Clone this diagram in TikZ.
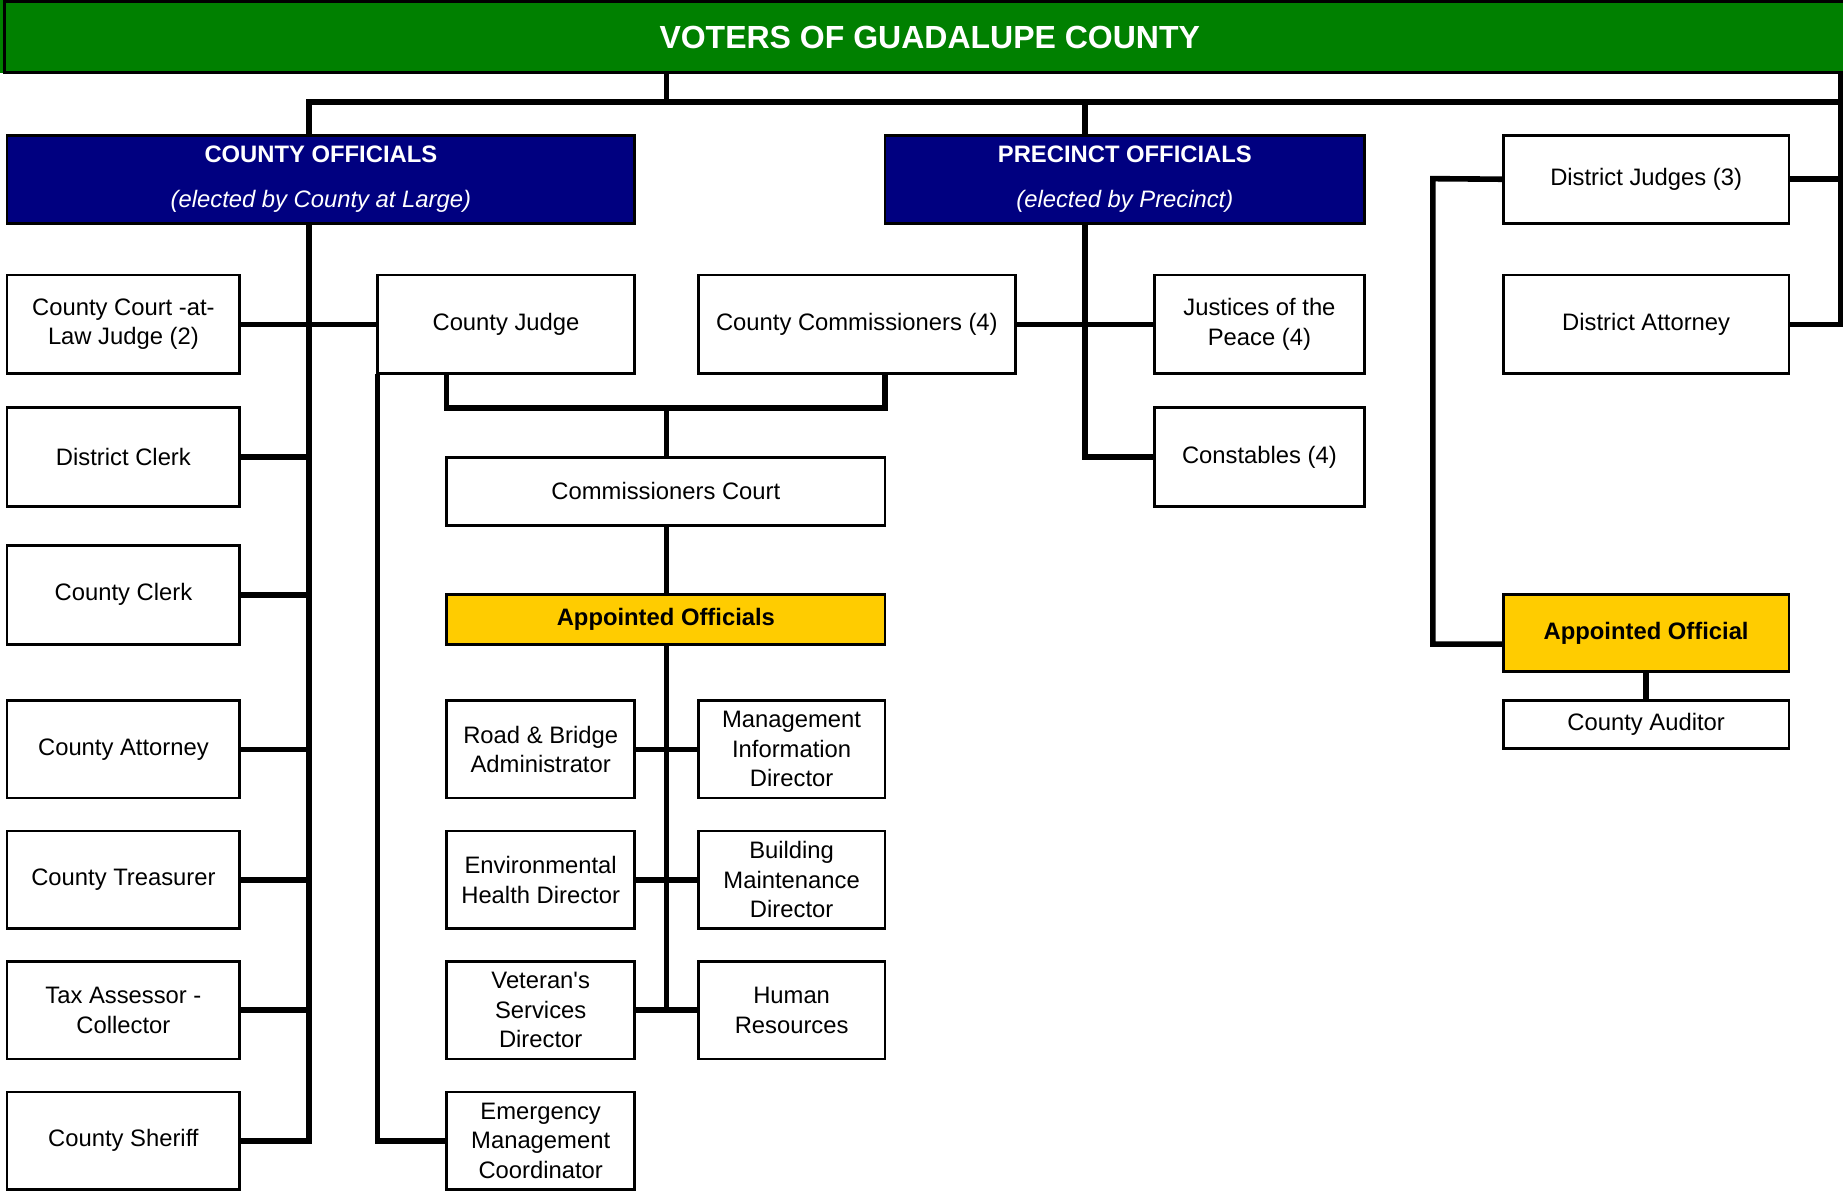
\documentclass[tikz,border=0pt]{standalone}
\usepackage{fontspec}
\setmainfont{Liberation Sans}
\definecolor{votegreen}{HTML}{008000}
\definecolor{navyblue}{HTML}{000080}
\definecolor{apptyellow}{HTML}{FFCC00}
\newcommand\orgbox[7][]{\node[box,#1,minimum width={(#5-#3)*1.1754pt},minimum height={(#6-#4)*1.1754pt}] (#2) at ({(#3+#5)/2},{(#4+#6)/2}) {#7};}
\begin{document}
\begin{tikzpicture}[x=1.1754pt,y=-1.1754pt,
  box/.style={draw=black,line width=2.8pt,fill=white,align=center,inner sep=1pt,outer sep=0pt,text=black,font=\fontsize{23.8}{29.5}\selectfont},
  head/.style={fill=navyblue,text=white},
  appt/.style={fill=apptyellow,font=\fontsize{23.8}{29.5}\selectfont\bfseries},
  conn/.style={line width=5.6pt,line join=miter}]
\useasboundingbox (0,0) rectangle (1568,1014);
\fill[votegreen] (0,0) rectangle (6,62);
% banner
\orgbox[fill=votegreen,text=white,font=\fontsize{32}{38}\selectfont\bfseries]{voters}{4}{1}{1578}{62}{VOTERS OF GUADALUPE COUNTY}
% headers
\orgbox[head]{co}{6}{115}{540}{190}{\textbf{COUNTY OFFICIALS}\\[15pt]\textit{(elected by County at Large)}}
\orgbox[head]{po}{753}{115}{1161}{190}{\textbf{PRECINCT OFFICIALS}\\[15pt]\textit{(elected by Precinct)}}
% district
\orgbox{dj}{1279}{115}{1522}{190}{District Judges (3)}
\orgbox{da}{1279}{234}{1522}{318}{District Attorney}
\orgbox[appt]{aoff}{1279}{506}{1522}{571}{Appointed Official}
\orgbox{aud}{1279}{596}{1522}{637}{County Auditor}
% left column
\orgbox{ccl}{6}{234}{204}{318}{County Court -at-\\Law Judge (2)}
\orgbox{dcl}{6}{347}{204}{431}{District Clerk}
\orgbox{ccle}{6}{464}{204}{548}{County Clerk}
\orgbox{catt}{6}{596}{204}{679}{County Attorney}
\orgbox{ctr}{6}{707}{204}{790}{County Treasurer}
\orgbox{tax}{6}{818}{204}{901}{Tax Assessor -\\Collector}
\orgbox{sher}{6}{929}{204}{1012}{County Sheriff}
% middle
\orgbox{cj}{321}{234}{540}{318}{County Judge}
\orgbox{comm}{594}{234}{864}{318}{County Commissioners (4)}
\orgbox{jp}{982}{234}{1161}{318}{Justices of the\\Peace (4)}
\orgbox{cons}{982}{347}{1161}{431}{Constables (4)}
\orgbox{court}{380}{389}{753}{447}{Commissioners Court}
\orgbox[appt]{aos}{380}{506}{753}{548}{Appointed Officials}
\orgbox{rba}{380}{596}{540}{679}{Road \& Bridge\\Administrator}
\orgbox{mid}{594}{596}{753}{679}{Management\\Information\\Director}
\orgbox{ehd}{380}{707}{540}{790}{Environmental\\Health Director}
\orgbox{bmd}{594}{707}{753}{790}{Building\\Maintenance\\Director}
\orgbox{vsd}{380}{818}{540}{901}{Veteran\textquotesingle s\\Services\\Director}
\orgbox{hr}{594}{818}{753}{901}{Human\\Resources}
\orgbox{emc}{380}{929}{540}{1012}{Emergency\\Management\\Coordinator}
% junction coordinates
\coordinate (sp) at (263,87);
\coordinate (rb) at (1566,87);
\coordinate (vb) at (567,87);
\coordinate (pc) at (923,87);
\coordinate (jl) at (380,347);
\coordinate (jr) at (753,347);
\coordinate (jx) at (567,347);
\coordinate (dl) at (1219,152);
\coordinate (aoffc) at ([yshift=-11.2pt]aoff.west);
% connectors
\draw[conn] (voters.south -| vb) -- (vb);
\draw[conn] (co.north -| sp) -- (sp) -- (rb);
\draw[conn] (voters.south -| rb) -- (rb |- da.east) -- (da.east);
\draw[conn] (po.north -| pc) -- (pc);
\draw[conn] (dj.east) -- (dj.east -| rb);
\draw[conn] (co.south -| sp) -- (sp |- sher.east) -- (sher.east);
\foreach \n in {dcl,ccle,catt,ctr,tax} \draw[conn] (\n.east) -- (\n.east -| sp);
\draw[conn] (ccl.east) -- (cj.west);
\draw[conn] (cj.south -| jl) -- (jl) -- (jr) -- (comm.south -| jr);
\draw[conn] (jx) -- (court.north -| jx);
\draw[conn] (court.south -| jx) -- (aos.north -| jx);
\draw[conn] (aos.south -| jx) -- (jx |- vsd.east);
\draw[conn] (rba.east) -- (mid.west);
\draw[conn] (ehd.east) -- (bmd.west);
\draw[conn] (vsd.east) -- (hr.west);
\draw[conn] (cj.south west) -- (cj.south west |- emc.west) -- (emc.west);
\draw[conn] (comm.east) -- (jp.west);
\draw[conn] (po.south -| pc) -- (pc |- cons.west) -- (cons.west);
\draw[conn] (dj.west) -- (dl) -- (dl |- aoffc) -- (aoffc);
\draw[conn] (aoff.south) -- (aud.north);
\end{tikzpicture}
\end{document}
